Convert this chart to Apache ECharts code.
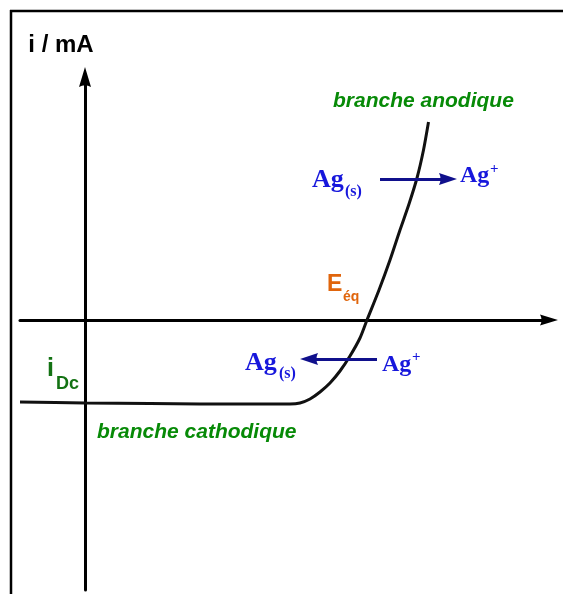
<!DOCTYPE html>
<html>
<head>
<meta charset="utf-8">
<script src="https://cdn.jsdelivr.net/npm/echarts@6/dist/echarts.min.js"></script>
<style>
  html, body { margin: 0; padding: 0; background: #fff; }
  #chart { width: 563px; height: 594px; }
</style>
</head>
<body>
<div id="chart"></div>
<script>
// Current–potential curve of the Ag+/Ag(s) couple (arbitrary units)
const potential = [-0.65, 0, 0.65, 1.15, 1.75, 2.05, 2.15, 2.25, 2.35, 2.45, 2.55, 2.65, 2.75, 2.82, 2.94, 3.05, 3.15, 3.24, 3.32, 3.385, 3.435];
const current   = [-0.82, -0.83, -0.835, -0.84, -0.84, -0.84, -0.83, -0.79, -0.72, -0.63, -0.51, -0.36, -0.18, 0, 0.30, 0.60, 0.90, 1.16, 1.42, 1.70, 1.98];

// Axis extents
const potentialRange = [-0.65, 4.64];
const currentRange = [-2.70, 2.43];

// Reaction arrows: [E start, E end, i]
const oxidationArrow = [2.95, 3.63, 1.41];
const reductionArrow = [2.92, 2.24, -0.39];

// Annotation texts and their anchors in (E, i)
const labelTexts = ['branche anodique', 'branche cathodique', 'Ag', '(s)', 'Ag', '+', 'Ag', '(s)', 'Ag', '+', 'E', 'éq', 'i', 'Dc'];
const labelAnchors = [
  [2.48, 2.19], [0.12, -1.12],
  [2.27, 1.40], [2.60, 1.28], [3.75, 1.44], [4.05, 1.51],
  [1.60, -0.43], [1.94, -0.54], [2.97, -0.45], [3.27, -0.37],
  [2.42, 0.35], [2.58, 0.23],
  [-0.38, -0.49], [-0.29, -0.64]
];
const labelKinds = ['branch', 'branch', 'ag', 'sub', 'ion', 'sup', 'ag', 'sub', 'ion', 'sup', 'e', 'esub', 'i', 'isub'];

const SANS = '"Liberation Sans", Arial, sans-serif';
const SERIF = '"Liberation Serif", "Times New Roman", serif';
const BLUE = '#1717dc';
const kindStyle = {
  branch: { fontFamily: SANS, fontSize: 21, fontWeight: 'bold', fontStyle: 'italic', color: '#078a07' },
  ag:     { fontFamily: SERIF, fontSize: 26, fontWeight: 'bold', color: BLUE },
  ion:    { fontFamily: SERIF, fontSize: 24, fontWeight: 'bold', color: BLUE },
  sub:    { fontFamily: SERIF, fontSize: 16, fontWeight: 'bold', color: BLUE },
  sup:    { fontFamily: SERIF, fontSize: 15, fontWeight: 'bold', color: BLUE },
  e:      { fontFamily: SANS, fontSize: 23, fontWeight: 'bold', color: '#e0650c' },
  esub:   { fontFamily: SANS, fontSize: 14, fontWeight: 'bold', color: '#e0650c' },
  i:      { fontFamily: SANS, fontSize: 25, fontWeight: 'bold', color: '#137213' },
  isub:   { fontFamily: SANS, fontSize: 18, fontWeight: 'bold', color: '#137213' }
};

const arrowHead = 'path://M6 0 L12 20 Q6 16.5 0 20 Z';

const curveData = potential.map((e, k) => [e, current[k]]);
const labelData = labelTexts.map((t, k) => ({
  value: labelAnchors[k],
  label: Object.assign({
    show: true, formatter: t, position: 'inside', align: 'left', verticalAlign: 'middle', opacity: 1
  }, kindStyle[labelKinds[k]])
}));

const chart = echarts.init(document.getElementById('chart'), null, { renderer: 'canvas' });
chart.setOption({
  animation: false,
  backgroundColor: '#ffffff',
  grid: { left: 20, right: 14, top: 77, bottom: 4, containLabel: false },
  xAxis: {
    type: 'value', min: potentialRange[0], max: potentialRange[1],
    axisLine: { onZero: true, symbol: ['none', arrowHead], symbolSize: [12, 18],
      lineStyle: { color: '#000', width: 3 } },
    axisTick: { show: false }, axisLabel: { show: false }, splitLine: { show: false }
  },
  yAxis: {
    type: 'value', min: currentRange[0], max: currentRange[1],
    name: 'i / mA', nameLocation: 'end', nameGap: 20,
    nameTextStyle: { fontFamily: SANS, fontSize: 24, fontWeight: 'bold', color: '#000', padding: [0, 48, 0, 0] },
    axisLine: { onZero: true, symbol: ['none', arrowHead], symbolSize: [12, 20],
      lineStyle: { color: '#000', width: 3 } },
    axisTick: { show: false }, axisLabel: { show: false }, splitLine: { show: false }
  },
  graphic: [
    { type: 'line', shape: { x1: 11, y1: 10, x2: 11, y2: 594 }, style: { stroke: '#000', lineWidth: 2.5 } },
    { type: 'line', shape: { x1: 10, y1: 11, x2: 563, y2: 11 }, style: { stroke: '#000', lineWidth: 2.5 } }
  ],
  series: [
    {
      type: 'line', data: curveData, smooth: 0.25, showSymbol: false, symbol: 'none',
      lineStyle: { color: '#111', width: 3 }, silent: true, z: 3,
      markLine: {
        silent: true, symbol: ['none', arrowHead], symbolSize: [12, 18],
        lineStyle: { color: '#10108c', width: 3, type: 'solid', opacity: 1 },
        label: { show: false },
        data: [
          [{ coord: [oxidationArrow[0], oxidationArrow[2]] }, { coord: [oxidationArrow[1], oxidationArrow[2]] }],
          [{ coord: [reductionArrow[0], reductionArrow[2]] }, { coord: [reductionArrow[1], reductionArrow[2]] }]
        ]
      }
    },
    {
      type: 'scatter', data: labelData, symbolSize: 0, clip: false, silent: true, z: 5,
      itemStyle: { opacity: 1, color: 'transparent' }
    }
  ]
});
</script>
</body>
</html>
